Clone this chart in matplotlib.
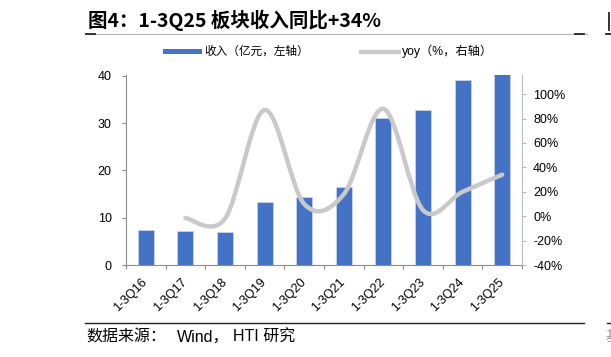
import numpy as np
import matplotlib
matplotlib.use("Agg")
import matplotlib.pyplot as plt
from matplotlib.path import Path
from matplotlib.patches import PathPatch, Rectangle
from matplotlib.lines import Line2D
from matplotlib.transforms import ScaledTranslation

plt.rcParams["font.family"] = ["Liberation Sans", "Noto Sans CJK SC", "DejaVu Sans"]

# data
periods = ["1-3Q16", "1-3Q17", "1-3Q18", "1-3Q19", "1-3Q20",
           "1-3Q21", "1-3Q22", "1-3Q23", "1-3Q24", "1-3Q25"]
revenue = [7.4, 7.25, 7.05, 13.3, 14.3, 16.6, 31.0, 32.8, 39.1, 52.4]  # 亿元, last bar runs off the axis
yoy = [None, -1.5, -2.0, 87, 10, 18, 88, 5, 20, 34]  # %

BLUE = "#4472C4"
GREY_LINE = "#c9c9c9"
W, H = 611, 357
CJK = ["Noto Sans CJK SC", "DejaVu Sans"]
LATIN_CJK = ["Liberation Sans"] + CJK


def fx(px):
    return px / W


def fy(py):
    return 1 - py / H


def smooth_path(xs, ys):
    """Excel-like smoothed line: cubic Bezier through every point."""
    pts = list(zip(xs, ys))
    verts = [pts[0]]
    codes = [Path.MOVETO]
    n = len(pts)
    for i in range(n - 1):
        p0 = pts[max(i - 1, 0)]
        p1 = pts[i]
        p2 = pts[i + 1]
        p3 = pts[min(i + 2, n - 1)]
        c1 = (p1[0] + (p2[0] - p0[0]) / 6, p1[1] + (p2[1] - p0[1]) / 6)
        c2 = (p2[0] - (p3[0] - p1[0]) / 6, p2[1] - (p3[1] - p1[1]) / 6)
        verts += [c1, c2, p2]
        codes += [Path.CURVE4] * 3
    return Path(verts, codes)


fig = plt.figure(figsize=(W / 100, H / 100), dpi=100)
ax = fig.add_axes([fx(126), fy(265), (522 - 126) / W, (265 - 75) / H])
ax2 = ax.twinx()

x = np.arange(len(periods))
ax.bar(x, revenue, width=0.4, color=BLUE, edgecolor="#c5d3ee", linewidth=0.6, zorder=2)
ax.set_xlim(-0.5, len(periods) - 0.5)
ax.set_ylim(0, 40.2)
ax.set_yticks([0, 10, 20, 30, 40])

# yoy line on the right axis
yx = [i for i, v in enumerate(yoy) if v is not None]
yv = [v for v in yoy if v is not None]
ax2.add_patch(PathPatch(smooth_path(yx, yv), fill=False, edgecolor=GREY_LINE,
                        linewidth=3.2, capstyle="round", joinstyle="round", zorder=3))
ax2.set_ylim(-40, 115.7)
ax2.set_yticks(range(-40, 101, 20))
ax2.set_yticklabels([f"{v}%" for v in range(-40, 101, 20)])

# spines and ticks
for a in (ax, ax2):
    a.spines["top"].set_visible(False)
    a.patch.set_visible(False)
ax2.spines["left"].set_visible(False)
ax2.spines["bottom"].set_visible(False)
ax.spines["right"].set_visible(False)
ax.spines["left"].set_color("#8c8c8c")
ax.spines["bottom"].set_color("#8c8c8c")
ax2.spines["right"].set_color("#bdbdbd")

ax.tick_params(axis="y", direction="out", length=3, width=0.8, color="#8c8c8c",
               labelsize=9, pad=7.3, labelcolor="#000000")
ax2.tick_params(axis="y", direction="out", length=3, width=0.8, color="#bdbdbd",
                labelsize=9, pad=5, labelcolor="#000000")

ax.set_xticks(x)
ax.set_xticks(np.arange(-0.5, len(periods), 1), minor=True)
ax.tick_params(axis="x", which="major", length=0, pad=8, labelsize=9)
ax.tick_params(axis="x", which="minor", direction="out", length=3, width=0.8, color="#8c8c8c")
ax.set_xticklabels(periods, rotation=45, ha="right", va="top")
shift = ScaledTranslation(0.04, 0, fig.dpi_scale_trans)
for lbl in ax.get_xticklabels():
    lbl.set_transform(lbl.get_transform() + shift)

# title and rules
fig.text(fx(88), fy(20), "图4：1-3Q25 板块收入同比+34%", fontsize=14, fontweight="bold",
         family=CJK, ha="left", va="center")
fig.add_artist(Line2D([fx(85), fx(587)], [fy(33.5), fy(33.5)], color="#b5b5b5", linewidth=0.8))
fig.add_artist(Line2D([fx(86), fx(95)], [fy(34), fy(34)], color="#222222", linewidth=1.3))
fig.add_artist(Line2D([fx(575), fx(584)], [fy(34), fy(34)], color="#222222", linewidth=1.3))
fig.add_artist(Line2D([fx(608.5), fx(608.5)], [fy(13), fy(30)], color="#222222", linewidth=1.3))
fig.add_artist(Line2D([fx(606), fx(611)], [fy(34), fy(34)], color="#222222", linewidth=1.3))

# legend, drawn by hand to sit where the reference has it
fig.add_artist(Rectangle((fx(163), fy(54)), fx(201.5) - fx(163), fy(49.5) - fy(54),
                         color=BLUE, linewidth=0))
fig.text(fx(204), fy(51.5), "收入（亿元，左轴）", fontsize=8.4, family=CJK, ha="left", va="center")
fig.add_artist(Line2D([fx(359), fx(401)], [fy(51.5), fy(51.5)], color=GREY_LINE,
                      linewidth=3.2, solid_capstyle="butt"))
fig.text(fx(402), fy(51.5), "yoy（%，右轴）", fontsize=8.8, family=LATIN_CJK,
         ha="left", va="center")

# source line
fig.add_artist(Line2D([fx(85), fx(584)], [fy(323), fy(323)], color="#222222", linewidth=1.0))
fig.add_artist(Line2D([fx(607), fx(611)], [fy(323), fy(323)], color="#222222", linewidth=1.0))
fig.text(fx(86), fy(337), "数据来源：", fontsize=11.5, family=CJK, ha="left", va="center")
fig.text(fx(177), fy(337), "Wind，", fontsize=11.5, family=LATIN_CJK, ha="left", va="center")
fig.text(fx(233), fy(337), "HTI 研究", fontsize=11.5, family=LATIN_CJK, ha="left", va="center")
fig.text(fx(606), fy(337), "基", fontsize=10, family=CJK, color="#999999", ha="left", va="center")

fig.savefig("out.png", dpi=100)
